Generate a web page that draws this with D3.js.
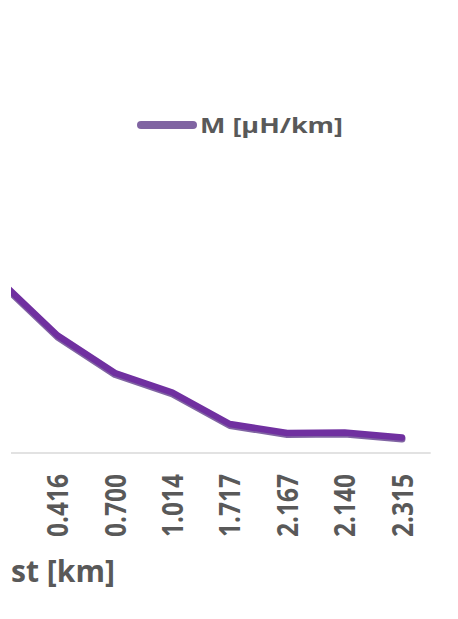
<!DOCTYPE html>
<html>
<head>
<meta charset="utf-8">
<script src="https://cdn.jsdelivr.net/npm/d3@7"></script>
<style>
  html, body { margin: 0; padding: 0; background: #fff; }
  svg { display: block; }
  text { font-family: "Open Sans", "Noto Sans", sans-serif; font-weight: bold; fill: #595959; }
</style>
</head>
<body>
<svg id="chart" width="458" height="619"></svg>
<script>
// ---- data (first category lies left of the visible crop; its label is not shown) ----
const categories = ["", "0.416", "0.700", "1.014", "1.717", "2.167", "2.140", "2.315"];
const mValues = [344, 235, 160, 121, 58, 40, 41, 31];   // M [µH/km]
const seriesName = "M [µH/km]";
const axisTitle = "st [km]";   // visible part of the axis title

const W = 458, H = 619;
const plotRight = 430.7, step = 57.4;
const plotBottom = 453, plotTop = 53;

const svg = d3.select("#chart");
svg.append("defs").append("clipPath").attr("id", "crop")
  .append("rect").attr("x", 11).attr("y", 0).attr("width", W - 11).attr("height", H);

const g = svg.append("g").attr("clip-path", "url(#crop)");

const x = d3.scaleBand().domain(categories)
  .range([plotRight - step * categories.length, plotRight]).padding(0);
const y = d3.scaleLinear().domain([0, 800]).range([plotBottom, plotTop]);
const cx = c => x(c) + x.bandwidth() / 2;

// axis line
g.append("line")
  .attr("x1", x.range()[0]).attr("x2", x.range()[1])
  .attr("y1", y(0)).attr("y2", y(0))
  .attr("stroke", "#d9d9d9").attr("stroke-width", 1.5);

// tick labels (rotated)
svg.selectAll("text.tick").data(categories.filter(c => c !== "")).join("text")
  .attr("class", "tick")
  .attr("transform", d => `translate(${cx(d) + 10.5},474) rotate(-90)`)
  .attr("text-anchor", "end")
  .attr("font-size", 29)
  .attr("textLength", 63)
  .attr("lengthAdjust", "spacingAndGlyphs")
  .text(d => d);

// series line
const line = d3.line().x((d, i) => cx(categories[i])).y(d => y(d));
g.append("path").datum(mValues)
  .attr("d", line)
  .attr("transform", "translate(0,1.5)")
  .attr("fill", "none").attr("stroke", "#8064A2").attr("stroke-width", 7)
  .attr("stroke-linecap", "round").attr("stroke-linejoin", "round");
g.append("path").datum(mValues)
  .attr("d", line)
  .attr("fill", "none").attr("stroke", "#7030A0").attr("stroke-width", 6.5)
  .attr("stroke-linecap", "round").attr("stroke-linejoin", "round");

// axis title
svg.append("text").attr("x", 11).attr("y", 582).attr("font-size", 31)
  .attr("textLength", 104).attr("lengthAdjust", "spacingAndGlyphs")
  .text(axisTitle);

// legend
const lg = svg.append("g");
lg.append("line").attr("x1", 141).attr("x2", 193).attr("y1", 125).attr("y2", 125)
  .attr("stroke", "#8064A2").attr("stroke-width", 8).attr("stroke-linecap", "round");
lg.append("text").attr("x", 200).attr("y", 132.5).attr("font-size", 21)
  .attr("textLength", 143).attr("lengthAdjust", "spacingAndGlyphs")
  .text(seriesName);
</script>
</body>
</html>
